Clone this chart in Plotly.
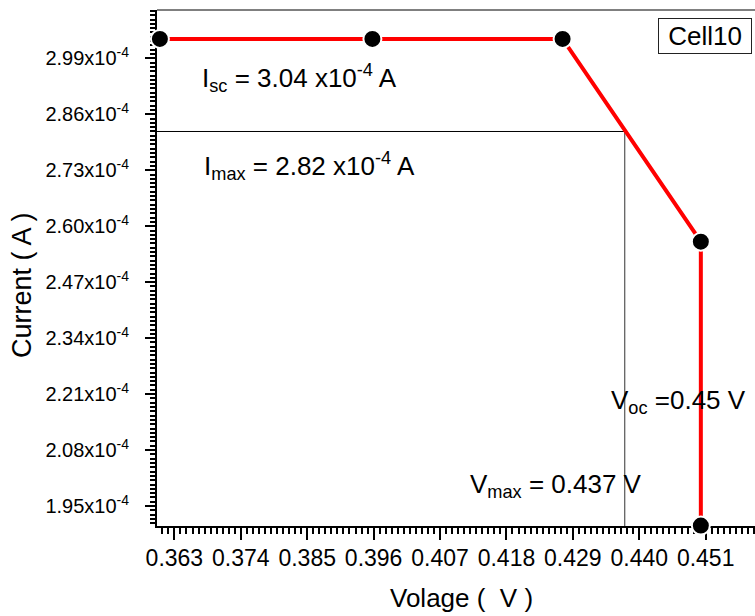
import plotly.graph_objects as go

# ---- data ----
voltage = [0.3606, 0.3958, 0.4273, 0.4502, 0.4502]
current = [3.035e-4, 3.035e-4, 3.035e-4, 2.564e-4, 1.9045e-4]

x_tick_vals = [0.363, 0.374, 0.385, 0.396, 0.407, 0.418, 0.429, 0.440, 0.451]
x_tick_text = ["0.363", "0.374", "0.385", "0.396", "0.407", "0.418", "0.429", "0.440", "0.451"]
y_tick_vals = [1.95e-4, 2.08e-4, 2.21e-4, 2.34e-4, 2.47e-4, 2.60e-4, 2.73e-4, 2.86e-4, 2.99e-4]
y_tick_text = ["1.95x10<sup>-4</sup>", "2.08x10<sup>-4</sup>", "2.21x10<sup>-4</sup>",
               "2.34x10<sup>-4</sup>", "2.47x10<sup>-4</sup>", "2.60x10<sup>-4</sup>",
               "2.73x10<sup>-4</sup>", "2.86x10<sup>-4</sup>", "2.99x10<sup>-4</sup>"]

I_max = 2.82e-4
V_max = 0.4376

x_range = [0.36012, 0.45917]
y_range = [1.9036e-4, 3.1022e-4]

# ---- layout geometry ----
W, H = 755, 616
ML, MR, MT, MB = 157, 0, 10, 90
PW = W - ML - MR
PH = H - MT - MB

def px(x):
    return (x - ML) / PW

def py(y):
    return (H - MB - y) / PH

FONT = "Liberation Sans, Arial, sans-serif"

fig = go.Figure()

fig.add_trace(go.Scatter(
    x=voltage, y=current, mode="lines+markers",
    line=dict(color="#ff0000", width=4),
    marker=dict(color="black", size=18, line=dict(color="white", width=2)),
    cliponaxis=False, showlegend=False,
))

# Imax / Vmax guide lines
fig.add_shape(type="line", xref="x", yref="y", x0=x_range[0], x1=V_max, y0=I_max, y1=I_max,
              line=dict(color="black", width=1), layer="below")
fig.add_shape(type="line", xref="x", yref="y", x0=V_max, x1=V_max, y0=y_range[0], y1=I_max,
              line=dict(color="#333333", width=1), layer="below")
# top frame line
fig.add_shape(type="line", xref="paper", yref="paper", x0=0, x1=1, y0=1, y1=1,
              line=dict(color="black", width=1))

ann = []
def text(x, y, t, size=26, xanchor="left", yanchor="middle", **kw):
    ann.append(dict(x=px(x), y=py(y), xref="paper", yref="paper", text=t, showarrow=False,
                    xanchor=xanchor, yanchor=yanchor, font=dict(family=FONT, size=size, color="black"), **kw))

text(200, 78, "I<sub>sc</sub> = 3.04 x10<sup>-4</sup> A")
text(202, 166, "I<sub>max</sub> = 2.82 x10<sup>-4</sup> A")
text(609, 401, "V<sub>oc</sub> =0.45 V")
text(468, 485, "V<sub>max</sub> = 0.437 V")
ann.append(dict(x=px(658), y=py(18), xref="paper", yref="paper", text="Cell10", showarrow=False,
                xanchor="left", yanchor="top", width=92, height=34, borderpad=0,
                bordercolor="#222222", borderwidth=1, bgcolor="white",
                font=dict(family=FONT, size=26, color="black")))
# axis titles
text(461.5, 598, "Volage (  V )", size=26, xanchor="center")
ann.append(dict(x=px(22), y=py(360), xref="paper", yref="paper", text="Current ( A )",
                showarrow=False, textangle=-90, xanchor="center", yanchor="bottom",
                font=dict(family=FONT, size=27, color="black")))

fig.update_layout(
    width=W, height=H,
    margin=dict(l=ML, r=MR, t=MT, b=MB, pad=0),
    paper_bgcolor="white", plot_bgcolor="white",
    annotations=ann,
    xaxis=dict(range=x_range, tickmode="array", tickvals=x_tick_vals, ticktext=x_tick_text,
               ticks="outside", ticklen=12, tickwidth=2, tickcolor="black",
               showline=True, linecolor="black", linewidth=2, showgrid=False, zeroline=False,
               tickfont=dict(family=FONT, size=23, color="black"), ticklabelstandoff=-2,
               layer="below traces",
               minor=dict(tickmode="linear", tick0=0.363, dtick=0.001, ticks="outside", ticklen=6,
                          tickwidth=1.5, tickcolor="black", showgrid=False)),
    yaxis=dict(range=y_range, tickmode="array", tickvals=y_tick_vals, ticktext=y_tick_text,
               ticks="outside", ticklen=10, tickwidth=2, tickcolor="black",
               showline=True, linecolor="black", linewidth=2, showgrid=False, zeroline=False,
               tickfont=dict(family=FONT, size=20, color="black"), ticklabelstandoff=12,
               layer="below traces",
               minor=dict(tickmode="linear", tick0=1.95e-4, dtick=0.01e-4, ticks="outside", ticklen=5,
                          tickwidth=1.5, tickcolor="black", showgrid=False)),
)

fig.write_html("out.html")
